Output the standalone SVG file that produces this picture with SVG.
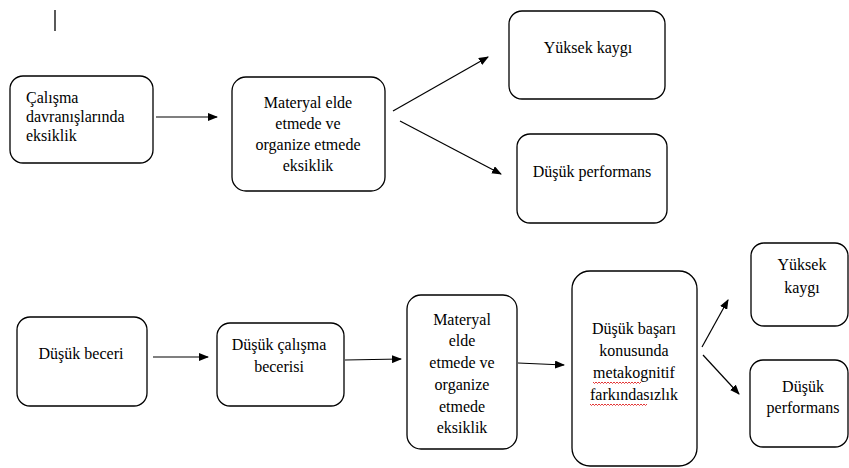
<svg xmlns="http://www.w3.org/2000/svg" width="849" height="468" viewBox="0 0 849 468">
<defs>
<style>
.box{fill:#fff;stroke:#000;stroke-width:1.3}
.t{font-family:"Liberation Serif","Times New Roman",serif;font-size:16px;fill:#000;text-anchor:middle}
.tl{text-anchor:start}
.c{stroke:#000;stroke-width:1.2;fill:none;marker-end:url(#ah)}
.w{stroke:#e02020;stroke-width:0.9;fill:none}
</style>
<marker id="ah" markerWidth="10" markerHeight="8" refX="9" refY="4" orient="auto" markerUnits="userSpaceOnUse">
<path d="M0,0 L10,4 L0,8 Z" fill="#000"/>
</marker>
</defs>
<rect width="849" height="468" fill="#fff"/>
<line x1="55" y1="10" x2="55" y2="31" stroke="#000" stroke-width="1.3"/>
<g id="n1"><rect class="box" x="10" y="76" width="143" height="87" rx="13"/>
<text class="t tl" x="26" y="103">Çalışma</text><text class="t tl" x="26" y="122">davranışlarında</text><text class="t tl" x="26" y="141">eksiklik</text></g>
<g id="n2"><rect class="box" x="232" y="77" width="153" height="114" rx="14"/>
<text class="t" x="308" y="108">Materyal elde</text><text class="t" x="308" y="129">etmede ve</text><text class="t" x="308" y="150">organize etmede</text><text class="t" x="308" y="171">eksiklik</text></g>
<g id="n3"><rect class="box" x="509" y="11" width="156" height="88" rx="13"/>
<text class="t" x="588" y="53">Yüksek kaygı</text></g>
<g id="n4"><rect class="box" x="517" y="134" width="150" height="89" rx="13"/>
<text class="t" x="592" y="177">Düşük performans</text></g>
<g id="n5"><rect class="box" x="17" y="317" width="130" height="89" rx="13"/>
<text class="t" x="81" y="359">Düşük beceri</text></g>
<g id="n6"><rect class="box" x="217" y="323" width="127" height="83" rx="13"/>
<text class="t" x="279" y="350">Düşük çalışma</text><text class="t" x="279" y="372">becerisi</text></g>
<g id="n7"><rect class="box" x="407" y="295" width="110" height="154" rx="14"/>
<text class="t" x="462" y="325">Materyal</text><text class="t" x="462" y="346">elde</text><text class="t" x="462" y="368">etmede ve</text><text class="t" x="462" y="390">organize</text><text class="t" x="462" y="412">etmede</text><text class="t" x="462" y="433">eksiklik</text></g>
<g id="n8"><rect class="box" x="572" y="271" width="125" height="195" rx="18"/>
<text class="t" x="634" y="334">Düşük başarı</text><text class="t" x="634" y="356">konusunda</text><text class="t" x="634" y="378">metakognitif</text><text class="t" x="634" y="400">farkındasızlık</text>
<path class="w" d="M593,382 l1.5,1.5 l1.5,-1.5 l1.5,1.5 l1.5,-1.5 l1.5,1.5 l1.5,-1.5 l1.5,1.5 l1.5,-1.5 l1.5,1.5 l1.5,-1.5 l1.5,1.5 l1.5,-1.5 l1.5,1.5 l1.5,-1.5 l1.5,1.5 l1.5,-1.5 l1.5,1.5 l1.5,-1.5 l1.5,1.5 l1.5,-1.5 l1.5,1.5 l1.5,-1.5 l1.5,1.5 l1.5,-1.5 l1.5,1.5 l1.5,-1.5 l1.5,1.5 l1.5,-1.5 l1.5,1.5 l1.5,-1.5 l1.5,1.5 l1.5,-1.5"/>
<path class="w" d="M590,404 l1.5,1.5 l1.5,-1.5 l1.5,1.5 l1.5,-1.5 l1.5,1.5 l1.5,-1.5 l1.5,1.5 l1.5,-1.5 l1.5,1.5 l1.5,-1.5 l1.5,1.5 l1.5,-1.5 l1.5,1.5 l1.5,-1.5 l1.5,1.5 l1.5,-1.5 l1.5,1.5 l1.5,-1.5 l1.5,1.5 l1.5,-1.5 l1.5,1.5 l1.5,-1.5 l1.5,1.5 l1.5,-1.5 l1.5,1.5 l1.5,-1.5 l1.5,1.5 l1.5,-1.5 l1.5,1.5 l1.5,-1.5 l1.5,1.5 l1.5,-1.5 l1.5,1.5 l1.5,-1.5 l1.5,1.5 l1.5,-1.5 l1.5,1.5 l1.5,-1.5"/></g>
<g id="n9"><rect class="box" x="751" y="243" width="97" height="83" rx="13"/>
<text class="t" x="802" y="270">Yüksek</text><text class="t" x="802" y="293">kaygı</text></g>
<g id="n10"><rect class="box" x="750" y="360" width="98" height="87" rx="13"/>
<text class="t" x="803" y="392">Düşük</text><text class="t" x="803" y="413">performans</text></g>
<g id="connectors">
<line class="c" x1="156" y1="117" x2="217" y2="117"/>
<line class="c" x1="393" y1="111" x2="488" y2="57"/>
<line class="c" x1="400" y1="121" x2="501" y2="174"/>
<line class="c" x1="153" y1="357" x2="208" y2="357"/>
<line class="c" x1="345" y1="360" x2="401" y2="359"/>
<line class="c" x1="518" y1="363" x2="564" y2="365"/>
<line class="c" x1="702" y1="347" x2="728" y2="300"/>
<line class="c" x1="703" y1="355" x2="739" y2="394"/>
</g>
</svg>
